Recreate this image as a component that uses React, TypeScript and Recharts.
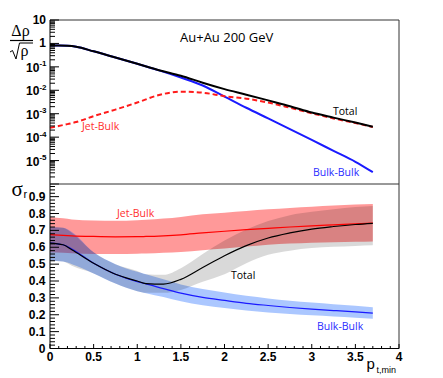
import React from 'react';
import { LineChart, ComposedChart, Line, Area, XAxis, YAxis, ReferenceLine } from 'recharts';

const W = 443;
const H = 378;
const PLOT_LEFT = 50;
const PLOT_RIGHT = 399;
const TOP_Y = 20;
const MID_Y = 184;
const BOT_Y = 348.5;

// ---------- Top panel: Δρ/√ρ (log scale) ----------
const ptTop = [0, 0.1, 0.2, 0.3, 0.5, 0.75, 1.0, 1.25, 1.5, 1.75, 2.0, 2.25, 2.5, 2.75, 3.0, 3.25, 3.5, 3.7];
const bulkBulkTop = [0.81, 0.81, 0.79, 0.72, 0.46, 0.25, 0.135, 0.071, 0.035, 0.016, 5.4e-3, 1.8e-3, 6.3e-4, 2.2e-4, 7.6e-5, 2.6e-5, 8.9e-6, 3.2e-6];
const jetBulkTop = [2.5e-4, 3.0e-4, 3.6e-4, 4.4e-4, 7.9e-4, 1.5e-3, 3.0e-3, 6.3e-3, 8.7e-3, 7.9e-3, 5.6e-3, 4.4e-3, 3.0e-3, 1.8e-3, 1.05e-3, 6.3e-4, 4.0e-4, 2.7e-4];
const totalTop = [0.81, 0.81, 0.79, 0.72, 0.46, 0.25, 0.135, 0.072, 0.042, 0.021, 0.0112, 6.5e-3, 3.7e-3, 2.1e-3, 1.12e-3, 6.8e-4, 4.2e-4, 2.8e-4];

// ---------- Bottom panel: σ_r ----------
const ptBottom = [0, 0.15, 0.25, 0.5, 0.75, 1.0, 1.1, 1.3, 1.5, 1.75, 2.0, 2.25, 2.5, 2.75, 3.0, 3.25, 3.5, 3.7];
const jetSigma = [0.675, 0.671, 0.668, 0.664, 0.662, 0.663, 0.664, 0.668, 0.674, 0.685, 0.695, 0.704, 0.712, 0.72, 0.727, 0.733, 0.739, 0.743];
const jetLow = [0.57, 0.567, 0.565, 0.56, 0.56, 0.562, 0.563, 0.567, 0.572, 0.582, 0.592, 0.604, 0.615, 0.622, 0.627, 0.63, 0.632, 0.634];
const jetHigh = [0.78, 0.772, 0.765, 0.758, 0.757, 0.76, 0.763, 0.77, 0.78, 0.795, 0.805, 0.815, 0.825, 0.833, 0.84, 0.847, 0.853, 0.857];
const bulkSigma = [0.625, 0.615, 0.59, 0.505, 0.44, 0.396, 0.383, 0.355, 0.328, 0.303, 0.285, 0.268, 0.255, 0.243, 0.233, 0.225, 0.217, 0.21];
const bulkLow = [0.52, 0.515, 0.5, 0.445, 0.385, 0.34, 0.328, 0.305, 0.28, 0.256, 0.24, 0.225, 0.214, 0.205, 0.197, 0.19, 0.183, 0.177];
const bulkHigh = [0.72, 0.715, 0.69, 0.57, 0.5, 0.455, 0.44, 0.41, 0.38, 0.352, 0.332, 0.312, 0.297, 0.283, 0.272, 0.263, 0.253, 0.245];
const totalSigma = [0.625, 0.615, 0.585, 0.505, 0.44, 0.4, 0.385, 0.382, 0.41, 0.48, 0.55, 0.61, 0.655, 0.685, 0.708, 0.723, 0.735, 0.742];
const totalLow = [0.52, 0.515, 0.49, 0.445, 0.385, 0.34, 0.33, 0.33, 0.347, 0.395, 0.44, 0.505, 0.555, 0.58, 0.595, 0.603, 0.608, 0.612];
const totalHigh = [0.72, 0.715, 0.685, 0.57, 0.5, 0.46, 0.44, 0.437, 0.476, 0.56, 0.64, 0.705, 0.755, 0.79, 0.81, 0.825, 0.838, 0.845];

// ---------- Ticks ----------
const xLabelValues = [0, 0.5, 1, 1.5, 2, 2.5, 3, 3.5, 4];
const xLabelTexts = ['0', '0.5', '1', '1.5', '2', '2.5', '3', '3.5', '4'];
const xTicks: number[] = [];
for (let i = 0; i <= 40; i++) xTicks.push(Math.round(i) / 10);

const logMajorExp = [-6, -5, -4, -3, -2, -1, 0, 1];
const logTicks: number[] = [];
for (const e of logMajorExp) {
  logTicks.push(Math.pow(10, e));
  if (e < 1) for (let k = 2; k <= 9; k++) logTicks.push(k * Math.pow(10, e));
}
logTicks.sort((a, b) => a - b);

const sigmaLabelValues = [0, 0.1, 0.2, 0.3, 0.4, 0.5, 0.6, 0.7, 0.8, 0.9];
const sigmaLabelTexts = ['0', '0.1', '0.2', '0.3', '0.4', '0.5', '0.6', '0.7', '0.8', '0.9'];
const sigmaTicks: number[] = [];
for (let i = 0; i <= 48; i++) sigmaTicks.push(Math.round(i * 2) / 100);

const topData = ptTop.map((pt, i) => ({ pt, bulk: bulkBulkTop[i], jet: jetBulkTop[i], total: totalTop[i] }));
const botData = ptBottom.map((pt, i) => ({
  pt,
  jet: jetSigma[i],
  jetBand: [jetLow[i], jetHigh[i]],
  bulk: bulkSigma[i],
  bulkBand: [bulkLow[i], bulkHigh[i]],
  total: totalSigma[i],
  totalBand: [totalLow[i], totalHigh[i]],
}));

const LABEL_FONT = '"Liberation Sans", Arial, sans-serif';
const NOTE_FONT = '"Open Sans", sans-serif';
const SERIF = '"Liberation Serif", "Times New Roman", serif';

const isHalf = (v: number) => Math.abs(v * 2 - Math.round(v * 2)) < 1e-6;

const makeXTick = (axisY: number, withLabels: boolean) => (props: any) => {
  const { x, payload } = props;
  const v = payload.value;
  const major = isHalf(v);
  const len = major ? 4.5 : 2.5;
  const idx = xLabelValues.findIndex((l) => Math.abs(l - v) < 1e-6);
  return (
    <g>
      <line x1={x} x2={x} y1={axisY} y2={axisY - len} stroke="#000" strokeWidth={1} />
      {withLabels && idx >= 0 ? (
        <text x={x} y={361} textAnchor="middle" fontFamily={LABEL_FONT} fontWeight="bold" fontSize={12} fill="#000">
          {xLabelTexts[idx]}
        </text>
      ) : null}
    </g>
  );
};

const LogTick = (props: any) => {
  const { y, payload } = props;
  const v = payload.value;
  const e = Math.log10(v);
  const major = Math.abs(e - Math.round(e)) < 1e-6;
  const len = major ? 9 : 5;
  const ex = Math.round(e);
  let label: React.ReactNode = null;
  if (major && ex === 1) {
    label = (
      <text x={46} y={y + 4} textAnchor="end" fontFamily={LABEL_FONT} fontWeight="bold" fontSize={12} fill="#000">10</text>
    );
  } else if (major && ex === 0) {
    label = (
      <text x={46} y={y + 4} textAnchor="end" fontFamily={LABEL_FONT} fontWeight="bold" fontSize={12} fill="#000">1</text>
    );
  } else if (major && ex > -6) {
    label = (
      <text x={46.5} y={y + 5} textAnchor="end" fontFamily={LABEL_FONT} fontWeight="bold" fontSize={12} fill="#000">
        10<tspan dy={-5.5} fontSize={8}>{'-' + String(-ex)}</tspan>
      </text>
    );
  }
  return (
    <g>
      <line x1={PLOT_LEFT} x2={PLOT_LEFT + len} y1={y} y2={y} stroke="#000" strokeWidth={1} />
      {label}
    </g>
  );
};

const SigmaTick = (props: any) => {
  const { y, payload } = props;
  const v = payload.value;
  const major = Math.abs(v * 10 - Math.round(v * 10)) < 1e-6;
  const len = major ? 9 : 5;
  const idx = sigmaLabelValues.findIndex((l) => Math.abs(l - v) < 1e-6);
  return (
    <g>
      <line x1={PLOT_LEFT} x2={PLOT_LEFT + len} y1={y} y2={y} stroke="#000" strokeWidth={1} />
      {idx >= 0 ? (
        <text x={45.5} y={y + 4} textAnchor="end" fontFamily={LABEL_FONT} fontWeight="bold" fontSize={12} fill="#000">
          {sigmaLabelTexts[idx]}
        </text>
      ) : null}
    </g>
  );
};

const abs: React.CSSProperties = { position: 'absolute', left: 0, top: 0 };

export default function App() {
  return (
    <div style={{ position: 'absolute', left: 0, top: 0, width: W, height: H, background: '#fff' }}>
      <div style={abs}>
        <LineChart width={W} height={H} data={topData} margin={{ top: TOP_Y, right: W - PLOT_RIGHT, bottom: H - MID_Y, left: 0 }}>
          <XAxis
            dataKey="pt"
            type="number"
            domain={[0, 4]}
            ticks={xTicks}
            interval={0}
            height={0}
            tickLine={false}
            axisLine={{ stroke: '#000' }}
            tick={makeXTick(MID_Y, false)}
          />
          <YAxis
            type="number"
            scale="log"
            domain={[1e-6, 10]}
            allowDataOverflow
            ticks={logTicks}
            interval={0}
            width={PLOT_LEFT}
            tickLine={false}
            axisLine={{ stroke: '#000' }}
            tick={LogTick}
          />
          <ReferenceLine y={10} stroke="#333" strokeWidth={1} />
          <ReferenceLine x={4} stroke="#333" strokeWidth={1} />
          <Line dataKey="bulk" type="monotone" stroke="#1a1aff" strokeWidth={2} dot={false} isAnimationActive={false} />
          <Line dataKey="jet" type="monotone" stroke="#ff1a1a" strokeWidth={2} strokeDasharray="5 3" dot={false} isAnimationActive={false} />
          <Line dataKey="total" type="monotone" stroke="#000" strokeWidth={2} dot={false} isAnimationActive={false} />
        </LineChart>
      </div>
      <div style={abs}>
        <ComposedChart width={W} height={H} data={botData} margin={{ top: MID_Y, right: W - PLOT_RIGHT, bottom: 0, left: 0 }}>
          <XAxis
            dataKey="pt"
            type="number"
            domain={[0, 4]}
            ticks={xTicks}
            interval={0}
            height={H - BOT_Y}
            tickLine={false}
            axisLine={{ stroke: '#000' }}
            tick={makeXTick(BOT_Y, true)}
          />
          <YAxis
            type="number"
            domain={[0, 0.975]}
            allowDataOverflow
            ticks={sigmaTicks}
            interval={0}
            width={PLOT_LEFT}
            tickLine={false}
            axisLine={{ stroke: '#000' }}
            tick={SigmaTick}
          />
          <ReferenceLine y={0.975} stroke="#333" strokeWidth={1} />
          <ReferenceLine x={4} stroke="#333" strokeWidth={1} />
          <Area dataKey="jetBand" type="monotone" stroke="none" fill="#ff0000" fillOpacity={0.4} isAnimationActive={false} />
          <Area dataKey="bulkBand" type="monotone" stroke="none" fill="#0055ff" fillOpacity={0.33} isAnimationActive={false} />
          <Area dataKey="totalBand" type="monotone" stroke="none" fill="#000000" fillOpacity={0.15} isAnimationActive={false} />
          <Line dataKey="jet" type="monotone" stroke="#ff0000" strokeWidth={1.2} dot={false} isAnimationActive={false} />
          <Line dataKey="bulk" type="monotone" stroke="#1a1aff" strokeWidth={1.2} dot={false} isAnimationActive={false} />
          <Line dataKey="total" type="monotone" stroke="#000" strokeWidth={1.2} dot={false} isAnimationActive={false} />
        </ComposedChart>
      </div>
      <svg width={W} height={H} style={{ ...abs, pointerEvents: 'none' }}>
        {/* top y title: Δρ / √ρ */}
        <text x={20.5} y={35.5} textAnchor="middle" fontFamily={SERIF} fontSize={16} fill="#000">Δρ</text>
        <line x1={10} x2={33} y1={40.5} y2={40.5} stroke="#000" strokeWidth={1.2} />
        <polyline points="10,52 12.5,50.5 16,59 19.5,43 33,43" fill="none" stroke="#000" strokeWidth={1} />
        <text x={20.5} y={56} fontFamily={SERIF} fontSize={16} fill="#000">ρ</text>
        {/* bottom y title: σr */}
        <text x={11.5} y={195.5} fontFamily={SERIF} fontSize={21} fill="#000">σ</text>
        <text x={23.5} y={198} fontFamily={LABEL_FONT} fontSize={11} fill="#000">r</text>
        {/* x title */}
        <text x={366.5} y={369} fontFamily={LABEL_FONT} fontSize={15} fill="#000">p</text>
        <text x={376.5} y={373} fontFamily={LABEL_FONT} fontSize={9} fill="#000">t,min</text>
        {/* annotations */}
        <text x={180} y={41.5} fontFamily={NOTE_FONT} fontSize={13} fill="#000">Au+Au 200 GeV</text>
        <text x={333} y={115} fontFamily={NOTE_FONT} fontSize={10.5} fill="#000">Total</text>
        <text x={313} y={176} fontFamily={NOTE_FONT} fontSize={10.5} fill="#2b2bff">Bulk-Bulk</text>
        <text x={82} y={130} fontFamily={NOTE_FONT} fontSize={10.5} fill="#ff3030">Jet-Bulk</text>
        <text x={117} y={217.3} fontFamily={NOTE_FONT} fontSize={10.5} fill="#ff3030">Jet-Bulk</text>
        <text x={231} y={279} fontFamily={NOTE_FONT} fontSize={10.5} fill="#000">Total</text>
        <text x={317} y={329.5} fontFamily={NOTE_FONT} fontSize={10.5} fill="#2b2bff">Bulk-Bulk</text>
      </svg>
    </div>
  );
}
